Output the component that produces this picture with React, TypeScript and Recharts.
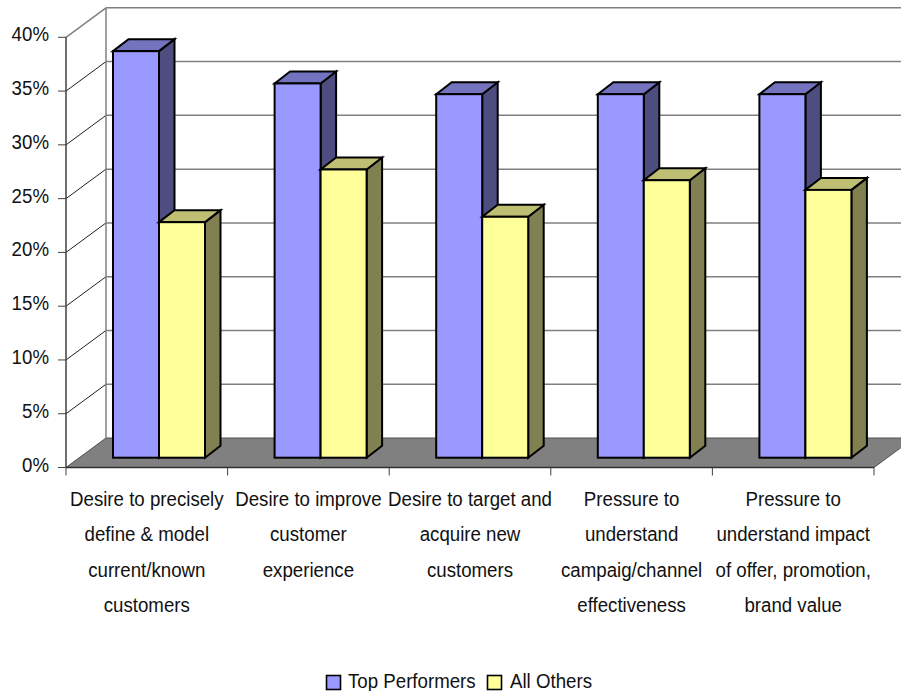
import React from "react";
import { BarChart, Bar, XAxis, YAxis, Legend, CartesianGrid } from "recharts";

const categories = [
  "Desire to precisely\ndefine & model\ncurrent/known\ncustomers",
  "Desire to improve\ncustomer\nexperience",
  "Desire to target and\nacquire new\ncustomers",
  "Pressure to\nunderstand\ncampaig/channel\neffectiveness",
  "Pressure to\nunderstand impact\nof offer, promotion,\nbrand value",
];
const topPerformers = [37.8, 34.8, 33.8, 33.8, 33.8];
const allOthers = [21.9, 26.8, 22.4, 25.8, 24.9];
const yTicks = [0, 5, 10, 15, 20, 25, 30, 35, 40];
const seriesNames = ["Top Performers", "All Others"];

const data = categories.map((category, i) => ({
  category,
  top: topPerformers[i],
  others: allOthers[i],
}));

const FONT = "'Liberation Sans', Arial, sans-serif";
const FONT_SIZE = 21;
const SQUEEZE = 0.89;
const W = 901;
const H = 691;
const LEFT = 66;
const RIGHT = 874;
const TOP = 37.3;
const BASE = 467.5;
const WALL_DX = 40;
const WALL_DY = -29.5;
const BAND = (RIGHT - LEFT) / categories.length;
const LINE_HEIGHT = 35.5;

function WallLine(props: any) {
  const y = props.y1;
  const bx = LEFT + WALL_DX;
  const by = y + WALL_DY;
  const isTop = Math.abs(y - TOP) < 1;
  const isZero = Math.abs(y - BASE) < 1;
  return (
    <g>
      {isZero && (
        <polygon
          points={`${LEFT},${BASE} ${RIGHT},${BASE} ${RIGHT + WALL_DX},${by} ${bx},${by}`}
          fill="#808080"
          stroke="#505050"
          strokeWidth={1}
        />
      )}
      {isTop && (
        <line x1={bx} y1={by} x2={bx} y2={BASE + WALL_DY} stroke="#808080" strokeWidth={1.5} />
      )}
      {!isZero && (
        <line x1={bx} y1={by} x2={RIGHT + WALL_DX} y2={by} stroke="#808080" strokeWidth={1.5} />
      )}
      {!isZero && (
        <line
          x1={LEFT}
          y1={y}
          x2={bx}
          y2={by}
          stroke={isTop ? "#808080" : "#202020"}
          strokeWidth={isTop ? 1.5 : 1}
        />
      )}
    </g>
  );
}

function YTick(props: any) {
  const { x, y, payload } = props;
  return (
    <text
      transform={`translate(${x},${y + 4}) scale(${SQUEEZE},1)`}
      textAnchor="end"
      fontFamily={FONT}
      fontSize={FONT_SIZE}
      fill="#111"
    >
      {payload.value}%
    </text>
  );
}

function XTick(props: any) {
  const { x, y, payload, index } = props;
  const lines = String(payload.value).split("\n");
  const isLast = index === categories.length - 1;
  return (
    <g>
      <line x1={x - BAND / 2} y1={BASE} x2={x - BAND / 2} y2={BASE + 8} stroke="#404040" strokeWidth={1} />
      {isLast && (
        <line x1={x + BAND / 2} y1={BASE} x2={x + BAND / 2} y2={BASE + 8} stroke="#404040" strokeWidth={1} />
      )}
      {lines.map((l, i) => (
        <text
          key={i}
          transform={`translate(${x},${y + i * LINE_HEIGHT}) scale(${SQUEEZE},1)`}
          textAnchor="middle"
          fontFamily={FONT}
          fontSize={FONT_SIZE}
          fill="#111"
        >
          {l}
        </text>
      ))}
    </g>
  );
}

function Bar3D(props: any) {
  const { x, y, width, height, front, side, top } = props;
  const dx = 12;
  const dy = -9.8;
  const ox = 15.5;
  const oy = -12;
  const l = x + dx;
  const r = l + width;
  const t = y + dy;
  const b = t + height;
  return (
    <g stroke="#000" strokeWidth={2} strokeLinejoin="miter">
      <polygon points={`${r},${t} ${r + ox},${t + oy} ${r + ox},${b + oy} ${r},${b}`} fill={side} />
      <polygon points={`${l},${t} ${l + ox},${t + oy} ${r + ox},${t + oy} ${r},${t}`} fill={top} />
      <rect x={l} y={t} width={width} height={height} fill={front} />
    </g>
  );
}

function LegendContent() {
  const item = (x: number, textX: number, color: string, label: string) => (
    <>
      <rect x={x} y={8.5} width={14} height={14} fill={color} stroke="#000" strokeWidth={1.6} />
      <text
        transform={`translate(${textX},20.5) scale(${SQUEEZE},1)`}
        fontFamily={FONT}
        fontSize={FONT_SIZE}
        fill="#111"
      >
        {label}
      </text>
    </>
  );
  return (
    <svg width={300} height={26} style={{ display: "block" }}>
      {item(1.5, 23, "#9999FF", seriesNames[0])}
      {item(162.5, 185, "#FFFF99", seriesNames[1])}
    </svg>
  );
}

export default function App() {
  return (
    <div style={{ width: W, height: H, overflow: "hidden", position: "relative" }}>
      <style>{`html,body{margin:0;padding:0;background:#fff}`}</style>
      <BarChart
        width={W}
        height={H}
        data={data}
        margin={{ top: TOP, right: W - RIGHT, left: 0, bottom: 0 }}
        barSize={46}
        barGap={0}
      >
        <CartesianGrid
          vertical={false}
          horizontal={(p: any) => <WallLine key={p.index} {...p} />}
          syncWithTicks
        />
        <YAxis
          type="number"
          domain={[0, 40]}
          ticks={yTicks}
          width={LEFT}
          tick={<YTick />}
          tickSize={8}
          tickMargin={9}
          tickLine={{ stroke: "#404040" }}
          axisLine={{ stroke: "#404040", strokeWidth: 1.5 }}
          interval={0}
        />
        <XAxis
          dataKey="category"
          height={H - BASE}
          interval={0}
          tick={<XTick />}
          tickLine={false}
          tickSize={0}
          tickMargin={38}
          axisLine={{ stroke: "#303030", strokeWidth: 1.5 }}
        />
        <Bar
          dataKey="top"
          name={seriesNames[0]}
          isAnimationActive={false}
          fill="#9999FF"
          shape={<Bar3D front="#9999FF" side="#4D4D80" top="#7373BF" />}
        />
        <Bar
          dataKey="others"
          name={seriesNames[1]}
          isAnimationActive={false}
          fill="#FFFF99"
          shape={<Bar3D front="#FFFF99" side="#808050" top="#BFBF73" />}
        />
        <Legend
          content={<LegendContent />}
          verticalAlign="middle"
          wrapperStyle={{ position: "absolute", left: 325, top: 666.5, width: 300, height: 24 }}
        />
      </BarChart>
    </div>
  );
}
